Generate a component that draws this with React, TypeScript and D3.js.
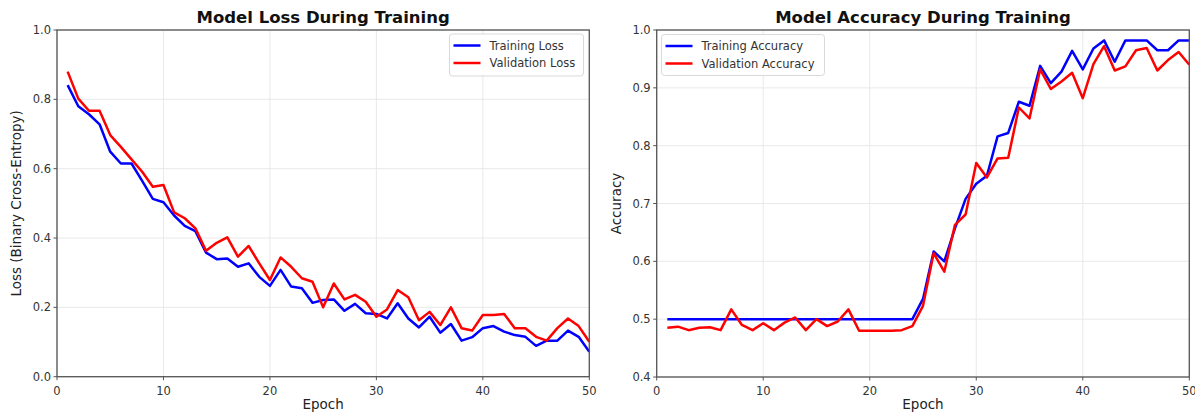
import React from "react";
import * as d3 from "d3";

const epochs = [1,2,3,4,5,6,7,8,9,10,11,12,13,14,15,16,17,18,19,20,21,22,23,24,25,26,27,28,29,30,31,32,33,34,35,36,37,38,39,40,41,42,43,44,45,46,47,48,49,50];

const trainLoss = [0.841,0.780,0.757,0.728,0.649,0.615,0.615,0.565,0.513,0.503,0.465,0.435,0.420,0.358,0.339,0.341,0.317,0.327,0.288,0.262,0.308,0.260,0.255,0.213,0.221,0.223,0.190,0.210,0.183,0.181,0.168,0.212,0.168,0.142,0.173,0.127,0.152,0.104,0.114,0.140,0.146,0.130,0.120,0.115,0.089,0.104,0.104,0.133,0.115,0.072];
const valLoss = [0.880,0.802,0.767,0.767,0.697,0.663,0.627,0.591,0.548,0.553,0.474,0.457,0.428,0.363,0.386,0.402,0.346,0.377,0.327,0.279,0.344,0.317,0.284,0.274,0.200,0.269,0.223,0.236,0.216,0.173,0.194,0.250,0.229,0.163,0.187,0.149,0.200,0.140,0.133,0.178,0.178,0.181,0.140,0.140,0.115,0.104,0.140,0.168,0.146,0.101];
const trainAcc = [0.5,0.5,0.5,0.5,0.5,0.5,0.5,0.5,0.5,0.5,0.5,0.5,0.5,0.5,0.5,0.5,0.5,0.5,0.5,0.5,0.5,0.5,0.5,0.5,0.535,0.617,0.600,0.657,0.708,0.734,0.748,0.816,0.822,0.876,0.869,0.938,0.908,0.928,0.964,0.932,0.968,0.982,0.945,0.982,0.982,0.982,0.965,0.965,0.982,0.982];
const valAcc = [0.485,0.487,0.481,0.485,0.486,0.481,0.517,0.490,0.481,0.493,0.481,0.494,0.503,0.481,0.500,0.488,0.496,0.517,0.480,0.480,0.480,0.480,0.481,0.488,0.523,0.614,0.582,0.663,0.681,0.770,0.745,0.778,0.779,0.866,0.847,0.932,0.898,0.911,0.926,0.882,0.941,0.972,0.930,0.937,0.965,0.969,0.930,0.948,0.962,0.940];

const xTicks = [0, 10, 20, 30, 40, 50];
const lossTicks = [0.0, 0.2, 0.4, 0.6, 0.8, 1.0];
const accTicks = [0.4, 0.5, 0.6, 0.7, 0.8, 0.9, 1.0];

const FONT = "DejaVu Sans, Verdana, sans-serif";
const TRAIN_COLOR = "#0000ff";
const VAL_COLOR = "#ff0000";

type PanelProps = {
  left: number;
  right: number;
  top: number;
  bottom: number;
  yDomain: [number, number];
  yTicks: number[];
  title: string;
  yLabel: string;
  yLabelX: number;
  train: number[];
  val: number[];
  trainName: string;
  valName: string;
  legend: { x: number; y: number; w: number; h: number };
};

function Panel(p: PanelProps) {
  const x = d3.scaleLinear().domain([0, 50]).range([p.left, p.right]);
  const y = d3.scaleLinear().domain(p.yDomain).range([p.bottom, p.top]);
  const line = d3
    .line<number>()
    .x((_, i) => x(epochs[i]))
    .y((d) => y(d));
  const cx = (p.left + p.right) / 2;
  const cy = (p.top + p.bottom) / 2;
  const L = p.legend;
  return (
    <g>
      {xTicks.map((t) => (
        <line key={"gx" + t} x1={x(t)} x2={x(t)} y1={p.top} y2={p.bottom} stroke="#e6e6e6" strokeWidth={0.9} />
      ))}
      {p.yTicks.map((t) => (
        <line key={"gy" + t} x1={p.left} x2={p.right} y1={y(t)} y2={y(t)} stroke="#e6e6e6" strokeWidth={0.9} />
      ))}
      <path d={line(p.train) || ""} fill="none" stroke={TRAIN_COLOR} strokeWidth={2.5} strokeLinejoin="round" />
      <path d={line(p.val) || ""} fill="none" stroke={VAL_COLOR} strokeWidth={2.5} strokeLinejoin="round" />
      <rect x={p.left} y={p.top} width={p.right - p.left} height={p.bottom - p.top} fill="none" stroke="#555" strokeWidth={1.3} />
      {xTicks.map((t) => (
        <g key={"xt" + t}>
          <line x1={x(t)} x2={x(t)} y1={p.bottom} y2={p.bottom + 3.5} stroke="#555" strokeWidth={1} />
          <text x={x(t)} y={p.bottom + 18} textAnchor="middle" fontSize={11.5} fill="#333" fontFamily={FONT}>
            {t}
          </text>
        </g>
      ))}
      {p.yTicks.map((t) => (
        <g key={"yt" + t}>
          <line x1={p.left - 3.5} x2={p.left} y1={y(t)} y2={y(t)} stroke="#555" strokeWidth={1} />
          <text x={p.left - 6} y={y(t) + 4} textAnchor="end" fontSize={11.5} fill="#333" fontFamily={FONT}>
            {t.toFixed(1)}
          </text>
        </g>
      ))}
      <text x={cx} y={409} textAnchor="middle" fontSize={13.5} fill="#222" fontFamily={FONT}>
        Epoch
      </text>
      <text
        transform={`translate(${p.yLabelX},${cy}) rotate(-90)`}
        textAnchor="middle"
        fontSize={13.5}
        fill="#222"
        fontFamily={FONT}
      >
        {p.yLabel}
      </text>
      <text x={cx} y={22.5} textAnchor="middle" fontSize={16.5} fontWeight="bold" fill="#111" fontFamily={FONT}>
        {p.title}
      </text>
      <rect x={L.x} y={L.y} width={L.w} height={L.h} rx={3} fill="white" fillOpacity={0.85} stroke="#d9d9d9" strokeWidth={1} />
      <line x1={L.x + 4} x2={L.x + 31} y1={L.y + 11.5} y2={L.y + 11.5} stroke={TRAIN_COLOR} strokeWidth={2.5} />
      <text x={L.x + 40} y={L.y + 15.5} fontSize={11.5} fill="#333" fontFamily={FONT}>
        {p.trainName}
      </text>
      <line x1={L.x + 4} x2={L.x + 31} y1={L.y + 29} y2={L.y + 29} stroke={VAL_COLOR} strokeWidth={2.5} />
      <text x={L.x + 40} y={L.y + 33} fontSize={11.5} fill="#333" fontFamily={FONT}>
        {p.valName}
      </text>
    </g>
  );
}

export default function App() {
  return (
    <svg
      width={1195}
      height={417}
      style={{ position: "absolute", left: 0, top: 0, background: "white" }}
    >
      <rect x={0} y={0} width={1195} height={417} fill="white" />
      <Panel
        left={57}
        right={589.3}
        top={30}
        bottom={376.7}
        yDomain={[0, 1]}
        yTicks={lossTicks}
        title="Model Loss During Training"
        yLabel="Loss (Binary Cross-Entropy)"
        yLabelX={21}
        train={trainLoss}
        val={valLoss}
        trainName="Training Loss"
        valName="Validation Loss"
        legend={{ x: 449.5, y: 34, w: 134, h: 42 }}
      />
      <Panel
        left={656.7}
        right={1189.3}
        top={30}
        bottom={377}
        yDomain={[0.4, 1]}
        yTicks={accTicks}
        title="Model Accuracy During Training"
        yLabel="Accuracy"
        yLabelX={621}
        train={trainAcc}
        val={valAcc}
        trainName="Training Accuracy"
        valName="Validation Accuracy"
        legend={{ x: 661.5, y: 34.5, w: 163, h: 41 }}
      />
    </svg>
  );
}
